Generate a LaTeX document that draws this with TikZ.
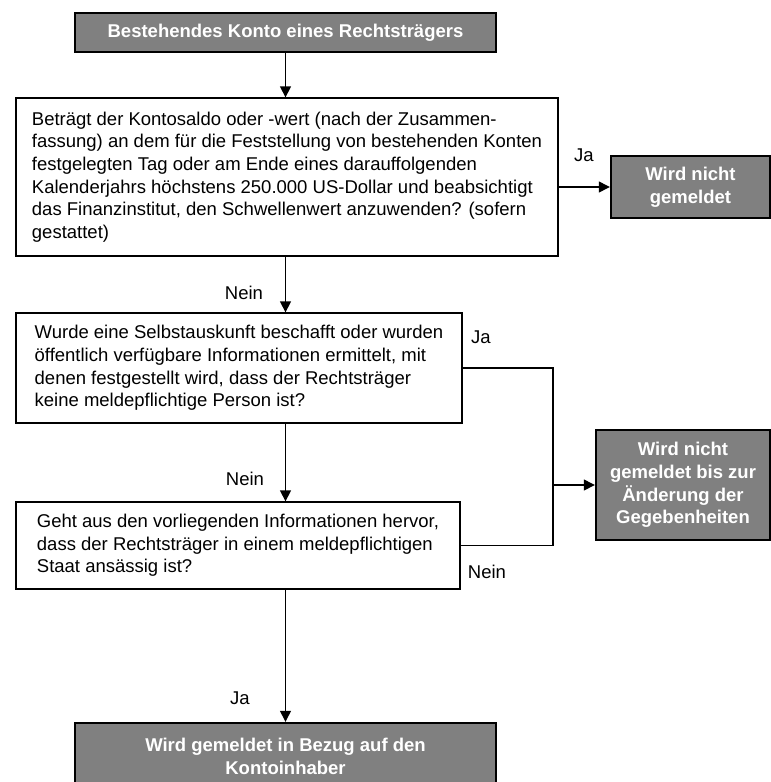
\documentclass[tikz,border=0pt]{standalone}
\usepackage{fontspec}
\setmainfont{Liberation Sans}
\usetikzlibrary{arrows.meta, positioning}
\definecolor{BoxGrey}{RGB}{128, 128, 128}

\tikzset{
  frage/.style={draw=black, line width=1.3pt, fill=white, align=left, inner sep=0pt,
    font=\fontsize{18.5}{22.7}\selectfont},
  ergebnis/.style={draw=black, line width=2.4pt, fill=BoxGrey, text=white, align=center,
    inner sep=0pt, font=\bfseries\fontsize{18.5}{22.7}\selectfont},
  pfeil/.style={line width=1.3pt, -{Triangle[length=11pt, width=11pt]}},
  linie/.style={line width=1.3pt},
  marke/.style={inner sep=0pt, font=\fontsize{18.5}{22.7}\selectfont},
}

\begin{document}
\begin{tikzpicture}[x=1pt, y=-1pt]
        \useasboundingbox (0,0) rectangle (771,782);
        \clip (0,0) rectangle (771,782);
        % Kaesten
        \node[ergebnis, minimum width=421, minimum height=39] (start) at (285.5,32.5)
             {Bestehendes Konto eines Rechtsträgers};
        \node[frage, minimum width=542, minimum height=158] (saldo) at (287,177)
             {Beträgt der Kontosaldo oder -wert (nach der Zusammen-\\
              fassung) an dem für die Feststellung von bestehenden Konten\\
              festgelegten Tag oder am Ende eines darauffolgenden\\
              Kalenderjahrs höchstens 250.000 US-Dollar und beabsichtigt\\
              das Finanzinstitut, den Schwellenwert anzuwenden? (sofern\\
              gestattet)};
        \node[ergebnis, minimum width=159, minimum height=62] (nicht) at (690.5,187)
             {Wird nicht\\gemeldet};
        \node[frage, minimum width=446, minimum height=110] (auskunft) at (239,368)
             {Wurde eine Selbstauskunft beschafft oder wurden\\
              öffentlich verfügbare Informationen ermittelt, mit\\
              denen festgestellt wird, dass der Rechtsträger\\
              keine meldepflichtige Person ist?};
        \node[ergebnis, minimum width=174, minimum height=110] (bis) at (683,485)
             {Wird nicht\\gemeldet bis zur\\Änderung der\\Gegebenheiten};
        \node[frage, minimum width=444, minimum height=87] (staat) at (238,545.5)
             {Geht aus den vorliegenden Informationen hervor,\\
              dass der Rechtsträger in einem meldepflichtigen\\
              Staat ansässig ist?};
        \node[ergebnis, minimum width=421, minimum height=67] (meldung) at (285.5,756.5)
             {Wird gemeldet in Bezug auf den\\Kontoinhaber};
        \coordinate (knick) at (553,485);
        % Verbindungen
        \draw[pfeil] (start.south) -- (start.south |- saldo.north);
        \draw[pfeil] (nicht.west -| saldo.east) -- (nicht.west);
        \draw[pfeil] (start.south |- saldo.south) -- (start.south |- auskunft.north);
        \draw[pfeil] (auskunft.east) -| (knick) -- (bis.west);
        \draw[linie] (staat.east) -| (knick);
        \draw[pfeil] (start.south |- auskunft.south) -- (start.south |- staat.north);
        \draw[pfeil] (start.south |- staat.south) -- (meldung.north);
        % Beschriftungen
        \node[marke] (ja1) at (584,155) {Ja};
        \node[marke] (nein1) at (244,293) {Nein};
        \node[marke] (ja2) at (481,337) {Ja};
        \node[marke] (nein2) at (245,479) {Nein};
        \node[marke] (nein3) at (487,572) {Nein};
        \node[marke] (ja3) at (240,698) {Ja};
      \end{tikzpicture}
\end{document}
